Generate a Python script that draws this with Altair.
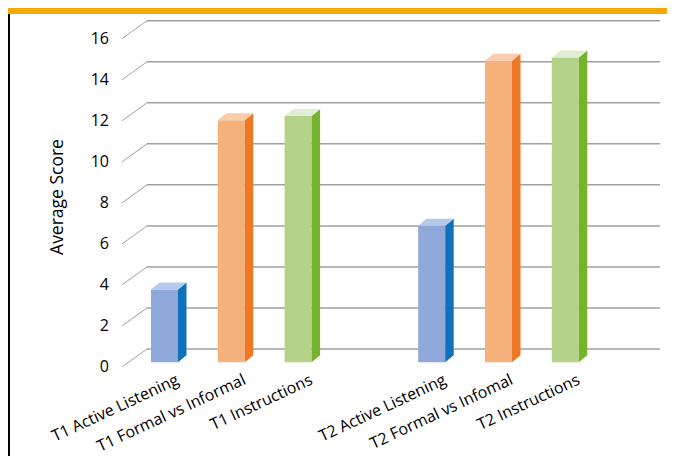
import altair as alt
import pandas as pd

# ---------------- data ----------------
categories = ["T1 Active Listening", "T1 Formal vs Informal", "T1 Instructions",
              "T2 Active Listening", "T2 Formal vs Infomal", "T2 Instructions"]
kinds = ["Active Listening", "Formal vs Informal", "Instructions",
         "Active Listening", "Formal vs Informal", "Instructions"]
slots = [0, 1, 2, 4, 5, 6]
values = [3.55, 11.8, 12.0, 6.65, 14.7, 14.85]
y_ticks = [0, 2, 4, 6, 8, 10, 12, 14, 16]
y_title = "Average Score"

kind_domain = ["Active Listening", "Formal vs Informal", "Instructions"]
front_colors = ["#8EA9D9", "#F4B17C", "#B5D388"]
side_colors = ["#0F71BA", "#EE7824", "#77B42E"]
top_colors = ["#B6C9EA", "#F9CDAB", "#E2EED4"]

# ---------------- layout (pixels, chart coords) ----------------
W, H = 659, 448
SLOT_PX = 66.8      # distance between category slots
X0_PX = 156.5       # centre of first bar front face
UNIT_PX = 20.52     # pixels per score unit
Y0_PX = 354.3       # zero line of the bar plane

x_dom = [-X0_PX / SLOT_PX, (W - X0_PX) / SLOT_PX]
y_dom = [-(H - Y0_PX) / UNIT_PX, Y0_PX / UNIT_PX]


def sx(px):
    return px / SLOT_PX


def sy(px):
    return px / UNIT_PX


def slot_of_chart_px(px):
    return (px - X0_PX) / SLOT_PX


HW = sx(13.5)        # half width of front face
DX, DY = sx(8.5), sy(7.0)   # bar depth
BACK_DY = sy(13.3)
FRONT_DY = sy(-4.7)
AX_L_FRONT = slot_of_chart_px(114)
AX_L_BACK = slot_of_chart_px(139)
AX_R_BACK = slot_of_chart_px(652)

xs = alt.Scale(domain=x_dom, nice=False, zero=False)
ys = alt.Scale(domain=y_dom, nice=False, zero=False)

# ---------------- tables ----------------
grid = pd.DataFrame({"v": y_ticks})
grid["yb"] = grid["v"] + BACK_DY
grid["yf"] = grid["v"] + FRONT_DY
grid["xl"] = AX_L_BACK
grid["xr"] = AX_R_BACK
grid["xf"] = AX_L_FRONT
grid["xt"] = slot_of_chart_px(101)
grid["lab"] = grid["v"].astype(str)

bars = pd.DataFrame({"cat": categories, "kind": kinds, "s": slots, "v": values})
bars["x1"] = bars["s"] - HW
bars["x2"] = bars["s"] + HW
bars["y1"] = 0.0
bars["xl"] = bars["s"] + sx(10)
bars["yl"] = sy(-9.5)

side_rows, top_rows = [], []
for i, r in bars.iterrows():
    side_rows.append({"id": i, "kind": r.kind, "x": r.s + HW, "lo": 0.0, "hi": r.v})
    side_rows.append({"id": i, "kind": r.kind, "x": r.s + HW + DX, "lo": DY, "hi": r.v + DY})
    top_rows.append({"id": i, "kind": r.kind, "x": r.s - HW, "lo": r.v, "hi": r.v})
    top_rows.append({"id": i, "kind": r.kind, "x": r.s - HW + DX, "lo": r.v, "hi": r.v + DY})
    top_rows.append({"id": i, "kind": r.kind, "x": r.s + HW, "lo": r.v, "hi": r.v + DY})
    top_rows.append({"id": i, "kind": r.kind, "x": r.s + HW + DX, "lo": r.v + DY, "hi": r.v + DY})
side = pd.DataFrame(side_rows)
top = pd.DataFrame(top_rows)

GRID_COL = "#A0A0A0"
FONT = "Open Sans"

back_lines = alt.Chart(grid).mark_rule(color=GRID_COL, strokeWidth=1.5).encode(
    x=alt.X("xl:Q", scale=xs, axis=None), x2="xr:Q",
    y=alt.Y("yb:Q", scale=ys, axis=None))

diag = alt.Chart(grid).mark_rule(color=GRID_COL, strokeWidth=1).encode(
    x=alt.X("xf:Q", scale=xs, axis=None), x2="xl:Q",
    y=alt.Y("yf:Q", scale=ys, axis=None), y2="yb:Q")

ylabels = alt.Chart(grid).mark_text(align="right", baseline="middle", font=FONT,
                                    fontSize=16, color="#000000").encode(
    x=alt.X("xt:Q", scale=xs, axis=None),
    y=alt.Y("yf:Q", scale=ys, axis=None), text="lab:N")

front = alt.Chart(bars).mark_rect().encode(
    x=alt.X("x1:Q", scale=xs, axis=None), x2="x2:Q",
    y=alt.Y("y1:Q", scale=ys, axis=None), y2="v:Q",
    color=alt.Color("kind:N", scale=alt.Scale(domain=kind_domain, range=front_colors), legend=None))

side_area = alt.Chart(side).mark_area(opacity=1).encode(
    x=alt.X("x:Q", scale=xs, axis=None),
    y=alt.Y("hi:Q", scale=ys, axis=None, stack=None), y2="lo:Q",
    detail="id:N",
    color=alt.Color("kind:N", scale=alt.Scale(domain=kind_domain, range=side_colors), legend=None))

top_area = alt.Chart(top).mark_area(opacity=1).encode(
    x=alt.X("x:Q", scale=xs, axis=None),
    y=alt.Y("hi:Q", scale=ys, axis=None, stack=None), y2="lo:Q",
    detail="id:N",
    color=alt.Color("kind:N", scale=alt.Scale(domain=kind_domain, range=top_colors), legend=None))

xlabels = alt.Chart(bars).mark_text(align="right", baseline="top", angle=335, font=FONT,
                                    fontSize=16, color="#000000").encode(
    x=alt.X("xl:Q", scale=xs, axis=None),
    y=alt.Y("yl:Q", scale=ys, axis=None), text="cat:N")

title = alt.Chart(pd.DataFrame({"t": [y_title]})).mark_text(
    angle=270, align="center", baseline="middle", font=FONT, fontSize=17.5, color="#000000").encode(
    x=alt.value(50), y=alt.value(189), text="t:N")

band = alt.Chart(pd.DataFrame({"a": [0]})).mark_rect(color="#F5A800").encode(
    x=alt.value(0), x2=alt.value(W), y=alt.value(0), y2=alt.value(6))

border = alt.Chart(pd.DataFrame({"a": [0]})).mark_rect(color="#000000").encode(
    x=alt.value(0), x2=alt.value(2), y=alt.value(6), y2=alt.value(H))

chart = alt.layer(back_lines, diag, ylabels, front, side_area, top_area, xlabels, title,
                  band, border).resolve_scale(color="independent").properties(
    width=W, height=H, autosize=alt.AutoSizeParams(type="none"), padding=0
).configure_view(stroke=None)

chart.save("out.html", embed_options={"renderer": "svg", "actions": False})
